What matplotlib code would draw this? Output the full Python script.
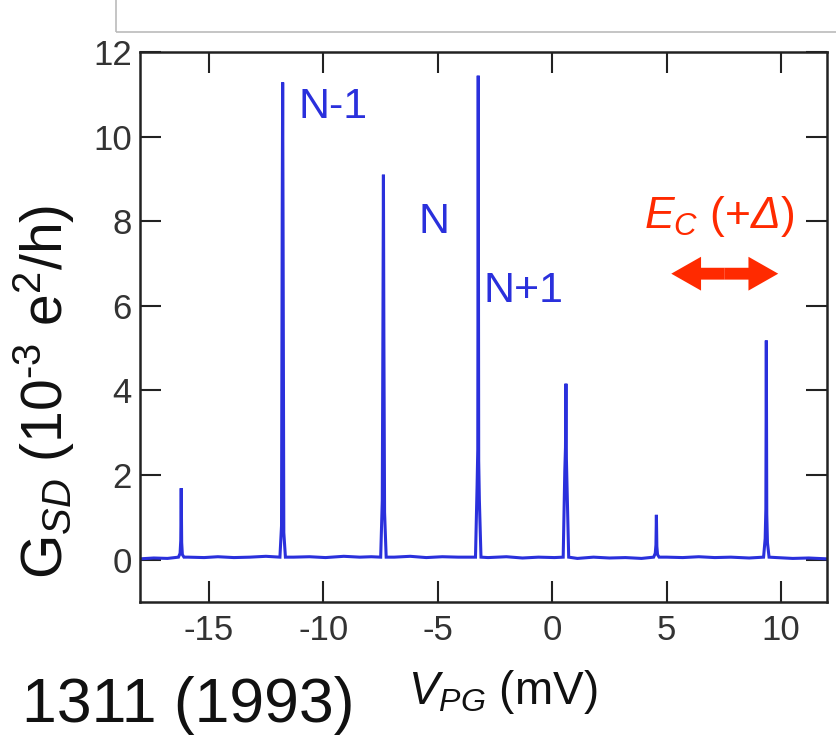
import matplotlib
matplotlib.use("Agg")
import matplotlib.pyplot as plt
from matplotlib.patches import FancyArrow, Rectangle
import numpy as np

plt.rcParams["font.family"] = ["Liberation Sans", "DejaVu Sans"]
plt.rcParams["mathtext.fontset"] = "custom"
plt.rcParams["mathtext.rm"] = "Liberation Sans"
plt.rcParams["mathtext.it"] = "Liberation Sans:italic"
plt.rcParams["mathtext.sf"] = "Liberation Sans:italic"   # used for the italic Delta
plt.rcParams["axes.unicode_minus"] = False

# conductance peaks (mV, 1e-3 e^2/h)
peak_x = [-16.2, -11.77, -7.37, -3.23, 0.6, 4.55, 9.35]
peak_h = [1.69, 11.28, 9.1, 11.44, 4.16, 1.06, 5.18]
shoulder_hi = [0.45, 8.15, 5.8, 2.6, 2.65, 0.35, 1.2]
shoulder_lo = [0.15, 0.8, 1.4, 1.75, 2.1, 0.15, 0.5]

# baseline wiggle
base_x = [-18.0, -17.4, -16.8, -15.9, -15.2, -14.6, -13.9, -13.2, -12.5,
          -11.3, -10.6, -9.9, -9.1, -8.4, -7.9, -6.9, -6.2, -5.5, -4.8,
          -4.1, -2.8, -2.0, -1.3, -0.6, 0.1, 1.1, 1.8, 2.5, 3.2, 3.9,
          5.0, 5.7, 6.4, 7.1, 7.8, 8.6, 9.8, 10.5, 11.2, 12.0]
base_y = [0.02, 0.04, 0.03, 0.06, 0.05, 0.07, 0.05, 0.06, 0.08,
          0.06, 0.07, 0.05, 0.08, 0.06, 0.07, 0.06, 0.08, 0.05, 0.07,
          0.06, 0.05, 0.07, 0.04, 0.06, 0.05, 0.03, 0.06, 0.04, 0.05, 0.03,
          0.06, 0.05, 0.07, 0.05, 0.06, 0.04, 0.05, 0.03, 0.04, 0.02]

xs = list(base_x)
ys = list(base_y)
for px, h, s1, s0 in zip(peak_x, peak_h, shoulder_hi, shoulder_lo):
    xs += [px - 0.12, px - 0.05, px - 0.02, px, px + 0.02, px + 0.05, px + 0.12]
    ys += [0.06, s0, s1, h, s1 * 0.9, s0 * 0.8, 0.06]
order = np.argsort(xs, kind="stable")
xs = np.array(xs)[order]
ys = np.array(ys)[order]

blue = "#2a30dc"
red = "#ff2a00"
dark = "#222222"

fig = plt.figure(figsize=(8.36, 7.36), dpi=100)
ax = fig.add_axes([140 / 836, 1 - 602 / 736, 687 / 836, 550 / 736])
ax.plot(xs, ys, color=blue, lw=2.2, solid_joinstyle="miter")

ax.set_xlim(-18, 12)
ax.set_ylim(-1, 12)
ax.set_xticks([-15, -10, -5, 0, 5, 10])
ax.set_yticks([0, 2, 4, 6, 8, 10, 12])
ax.tick_params(direction="in", length=15, width=1.5, color=dark,
               top=True, right=True, labelsize=25, labelcolor="#333333")
ax.tick_params(axis="x", pad=9)
ax.tick_params(axis="y", pad=6)
for s in ax.spines.values():
    s.set_linewidth(1.8)
    s.set_color(dark)

# peak labels
ax.text(-11.08, 10.45, "N-1", color=blue, fontsize=31, va="baseline")
ax.text(-5.84, 7.72, "N", color=blue, fontsize=31, va="baseline")
ax.text(-3.0, 6.1, "N+1", color=blue, fontsize=31, va="baseline")

# charging energy
ax.text(4.0, 7.84, r"$\mathit{E}_{\mathit{C}}$ (+$\mathsf{Δ}$)", color=red,
        fontsize=32, va="baseline")
ec_left, ec_right, ec_y = 5.2, 9.87, 6.76
mid = (ec_left + ec_right) / 2
for end in (ec_left, ec_right):
    ax.add_patch(FancyArrow(mid, ec_y, end - mid, 0, width=0.28, head_width=0.8,
                            head_length=1.3, length_includes_head=True,
                            color=red, lw=0))

# axis labels
fig.text(44 / 836, 1 - 392 / 736,
         r"G$_{\mathit{SD}}$ (10$^{\text{-3}}$ e$^{2}$/h)",
         rotation=90, ha="center", va="center", fontsize=41, color="#111111")
fig.text(408 / 836, 1 - 704 / 736, r"$\mathit{V}_{\mathit{PG}}$ (mV)",
         ha="left", va="baseline", fontsize=33, color="#111111")
fig.text(22 / 836, 1 - 722 / 736, "1311 (1993)",
         ha="left", va="baseline", fontsize=45, color="#111111")

# edge of the panel above
fig.patches.append(Rectangle((116 / 836, 1 - 32 / 736), 1, 0.2,
                             transform=fig.transFigure, fill=False,
                             edgecolor="#bbbbbb", lw=1.2))

fig.savefig("out.png", dpi=100)
